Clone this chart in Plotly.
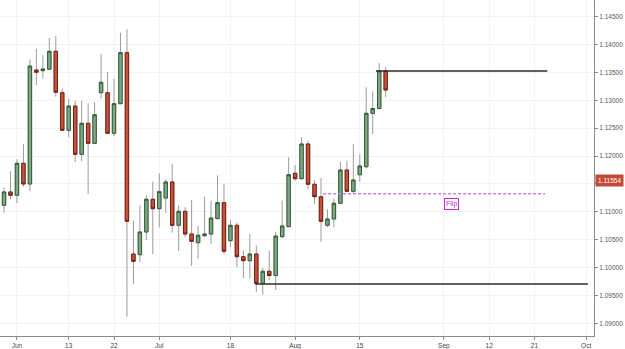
import plotly.graph_objects as go

dates = [
    "2016-05-30", "2016-05-31", "2016-06-01", "2016-06-02", "2016-06-03",
    "2016-06-06", "2016-06-07", "2016-06-08", "2016-06-09", "2016-06-10",
    "2016-06-13", "2016-06-14", "2016-06-15", "2016-06-16", "2016-06-17",
    "2016-06-20", "2016-06-21", "2016-06-22", "2016-06-23", "2016-06-24",
    "2016-06-27", "2016-06-28", "2016-06-29", "2016-06-30", "2016-07-01",
    "2016-07-04", "2016-07-05", "2016-07-06", "2016-07-07", "2016-07-08",
    "2016-07-11", "2016-07-12", "2016-07-13", "2016-07-14", "2016-07-15",
    "2016-07-18", "2016-07-19", "2016-07-20", "2016-07-21", "2016-07-22",
    "2016-07-25", "2016-07-26", "2016-07-27", "2016-07-28", "2016-07-29",
    "2016-08-01", "2016-08-02", "2016-08-03", "2016-08-04", "2016-08-05",
    "2016-08-08", "2016-08-09", "2016-08-10", "2016-08-11", "2016-08-12",
    "2016-08-15", "2016-08-16", "2016-08-17", "2016-08-18", "2016-08-19",
]
opens = [
    1.11117, 1.11356, 1.11296, 1.11870, 1.11499, 1.13544, 1.13532, 1.13557, 1.13880, 1.13137,
    1.12462, 1.12898, 1.12032, 1.12588, 1.12229, 1.13137, 1.13137, 1.12409, 1.12940, 1.13855,
    1.10243, 1.10231, 1.10638, 1.11225, 1.11056, 1.11248, 1.11535, 1.10758, 1.11009, 1.10602,
    1.10446, 1.10572, 1.10602, 1.10877, 1.11164, 1.10482, 1.10758, 1.10195, 1.10123, 1.10243,
    1.09718, 1.09933, 1.09858, 1.10554, 1.10733, 1.11691, 1.11594, 1.12217, 1.11494, 1.11271,
    1.10758, 1.10871, 1.11153, 1.11750, 1.11368, 1.11666, 1.11809, 1.12767, 1.12853, 1.13526,
]
highs = [
    1.11440, 1.11727, 1.11942, 1.12217, 1.13736, 1.13926, 1.13808, 1.14118, 1.14154, 1.13209,
    1.13029, 1.12993, 1.12993, 1.12947, 1.12970, 1.13831, 1.13508, 1.13388, 1.14213, 1.14274,
    1.10841, 1.11117, 1.11296, 1.11540, 1.11691, 1.11583, 1.11858, 1.11117, 1.11081, 1.11212,
    1.10746, 1.11271, 1.11199, 1.11655, 1.11499, 1.10853, 1.10805, 1.10302, 1.10602, 1.10399,
    1.09992, 1.10302, 1.10643, 1.11199, 1.11978, 1.11835, 1.12337, 1.12265, 1.11571, 1.11607,
    1.11045, 1.11235, 1.11894, 1.11917, 1.12217, 1.12032, 1.13234, 1.13162, 1.13666, 1.13593,
]
lows = [
    1.10984, 1.11225, 1.11153, 1.11451, 1.11368, 1.13270, 1.13388, 1.13550, 1.13065, 1.12450,
    1.12337, 1.11894, 1.11906, 1.11320, 1.12220, 1.13029, 1.12400, 1.12360, 1.12930, 1.09118,
    1.09705, 1.10100, 1.10494, 1.10243, 1.10722, 1.10984, 1.10625, 1.10292, 1.10543, 1.10028,
    1.10159, 1.10550, 1.10423, 1.10870, 1.10243, 1.10363, 1.10005, 1.09813, 1.09800, 1.09562,
    1.09513, 1.09777, 1.09597, 1.10525, 1.10720, 1.11558, 1.11580, 1.11404, 1.11140, 1.10464,
    1.10722, 1.10722, 1.11140, 1.11364, 1.11320, 1.11538, 1.11781, 1.12396, 1.12840, 1.13054,
]
closes = [
    1.11356, 1.11296, 1.11870, 1.11499, 1.13616, 1.13503, 1.13562, 1.13880, 1.13144, 1.12462,
    1.12898, 1.12032, 1.12588, 1.12229, 1.12742, 1.13324, 1.12409, 1.12940, 1.13855, 1.10830,
    1.10112, 1.10638, 1.11225, 1.11056, 1.11361, 1.11535, 1.10758, 1.11009, 1.10602, 1.10471,
    1.10579, 1.10602, 1.10889, 1.11164, 1.10292, 1.10758, 1.10195, 1.10123, 1.10243, 1.09718,
    1.09933, 1.09858, 1.10566, 1.10746, 1.11666, 1.11594, 1.12217, 1.11494, 1.11271, 1.10830,
    1.10871, 1.11153, 1.11750, 1.11368, 1.11571, 1.11822, 1.12767, 1.12853, 1.13526, 1.13185,
]

# x tick labels
x_tickvals = ["2016-06-01", "2016-06-13", "2016-06-22", "2016-07-01", "2016-07-18",
              "2016-08-01", "2016-08-15", "2016-09-01", "2016-09-12", "2016-09-21", "2016-10-03"]
x_ticktext = ["Jun", "13", "22", "Jul", "18", "Aug", "15", "Sep", "12", "21", "Oct"]
# y tick labels (1.11500 is hidden behind the current-price marker)
y_tickvals = [1.090, 1.095, 1.100, 1.105, 1.110, 1.115, 1.120, 1.125, 1.130, 1.135, 1.140, 1.145]
y_ticktext = ["1.09000", "1.09500", "1.10000", "1.10500", "1.11000", "",
              "1.12000", "1.12500", "1.13000", "1.13500", "1.14000", "1.14500"]

# annotated levels
resistance_level = 1.13526
resistance_span = ["2016-08-17 12:00", "2016-09-23 00:00"]
support_level = 1.09705
support_span = ["2016-07-21 20:00", "2016-10-03 06:00"]
flip_level = 1.11325
flip_span = ["2016-08-05 08:00", "2016-09-22 15:00"]
flip_label = "Flip"
flip_label_pos = ["2016-09-02 06:00", 1.1114]
current_price = 1.11554

GREEN_FILL = "#7ea883"
GREEN_EDGE = "#345c38"
RED_FILL = "#c9503e"
RED_EDGE = "#72200f"
WICK = "#9c9c9c"

body_hi = [max(o, c) for o, c in zip(opens, closes)]
body_lo = [min(o, c) for o, c in zip(opens, closes)]

fig = go.Figure()
# wicks
fig.add_trace(go.Candlestick(
    x=dates, open=opens, high=highs, low=lows, close=closes,
    increasing=dict(line=dict(color=WICK, width=1), fillcolor=GREEN_FILL),
    decreasing=dict(line=dict(color=WICK, width=1), fillcolor=RED_FILL),
    showlegend=False, hoverinfo="skip",
))
# bodies
fig.add_trace(go.Candlestick(
    x=dates, open=opens, high=body_hi, low=body_lo, close=closes,
    increasing=dict(line=dict(color=GREEN_EDGE, width=1), fillcolor=GREEN_FILL),
    decreasing=dict(line=dict(color=RED_EDGE, width=1), fillcolor=RED_FILL),
    showlegend=False,
))

fig.add_shape(type="line", xref="x", yref="y", x0=resistance_span[0], x1=resistance_span[1],
              y0=resistance_level, y1=resistance_level, line=dict(color="#2a2a2a", width=1.5))
fig.add_shape(type="line", xref="x", yref="y", x0=support_span[0], x1=support_span[1],
              y0=support_level, y1=support_level, line=dict(color="#2a2a2a", width=1.5))
fig.add_shape(type="line", xref="x", yref="y", x0=flip_span[0], x1=flip_span[1],
              y0=flip_level, y1=flip_level, line=dict(color="#d07fe0", width=1.5, dash="3px,2px"))

fig.add_annotation(x=flip_label_pos[0], y=flip_label_pos[1], xref="x", yref="y",
                   text=flip_label, showarrow=False,
                   font=dict(family="Liberation Sans", size=7, color="#c62cc6"),
                   bgcolor="white", bordercolor="#c62cc6", borderwidth=1, borderpad=1)
fig.add_annotation(x=1, y=current_price, xref="paper", yref="y", xanchor="left",
                   xshift=1, text=f"{current_price:.5f}", showarrow=False,
                   font=dict(family="Liberation Sans", size=6.5, color="white"),
                   bgcolor="#c44a36", borderpad=2)

fig.update_layout(
    width=625, height=349,
    margin=dict(l=0, r=31, t=0, b=13),
    paper_bgcolor="white", plot_bgcolor="white",
    boxgap=0.25,
    font=dict(family="Liberation Sans", size=6.5, color="#444"),
    xaxis=dict(
        type="date",
        rangebreaks=[dict(bounds=["sat", "mon"])],
        range=["2016-05-27 09:00", "2016-10-04 05:00"],
        rangeslider=dict(visible=False),
        tickvals=x_tickvals, ticktext=x_ticktext,
        showgrid=True, gridcolor="#f3f3f3", gridwidth=1,
        showline=True, linecolor="#8a8a8a", linewidth=1,
        ticks="outside", ticklen=3, tickcolor="#8a8a8a",
        tickfont=dict(size=6.5, color="#444"),
        zeroline=False, automargin=False,
    ),
    yaxis=dict(
        side="right",
        range=[1.08772, 1.148],
        tickvals=y_tickvals, ticktext=y_ticktext,
        showgrid=True, gridcolor="#f3f3f3", gridwidth=1,
        showline=True, linecolor="#8a8a8a", linewidth=1,
        ticks="outside", ticklen=3, tickcolor="#8a8a8a",
        tickfont=dict(size=6.5, color="#555"),
        zeroline=False, automargin=False,
    ),
)

fig.write_html("out.html", config={"displayModeBar": False})
